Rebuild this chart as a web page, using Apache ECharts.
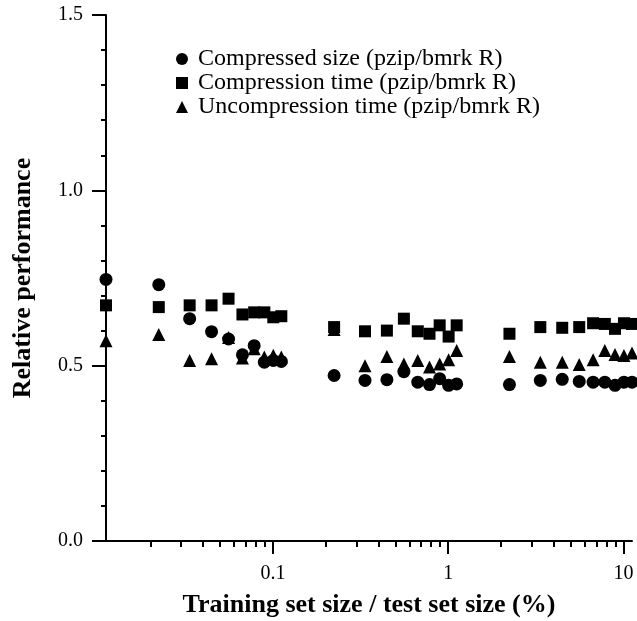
<!DOCTYPE html>
<html>
<head>
<meta charset="utf-8">
<title>Relative performance</title>
<script src="https://cdn.jsdelivr.net/npm/echarts@6.0.0/dist/echarts.min.js"></script>
<style>
  html, body { margin: 0; padding: 0; background: #fff; }
  #chart { width: 637px; height: 621px; }
</style>
</head>
<body>
<div id="chart"></div>
<script>
// training set size / test set size (%)
var trainPct = [0.01117, 0.02234, 0.03351, 0.04468, 0.05585, 0.06702, 0.07819, 0.08936, 0.1005, 0.1117,
                0.2234, 0.3351, 0.4468, 0.5585, 0.6702, 0.7819, 0.8936, 1.005, 1.117,
                2.234, 3.351, 4.468, 5.585, 6.702, 7.819, 8.936, 10.05, 11.17];

var compSize = [0.746, 0.731, 0.634, 0.597, 0.576, 0.531, 0.557, 0.510, 0.515, 0.512,
                0.472, 0.458, 0.460, 0.483, 0.453, 0.446, 0.463, 0.444, 0.448,
                0.446, 0.458, 0.461, 0.455, 0.453, 0.453, 0.444, 0.453, 0.453];

var compTime = [0.672, 0.667, 0.672, 0.672, 0.691, 0.646, 0.652, 0.652, 0.638, 0.641,
                0.610, 0.598, 0.600, 0.634, 0.598, 0.591, 0.615, 0.583, 0.615,
                0.591, 0.610, 0.608, 0.610, 0.621, 0.619, 0.605, 0.621, 0.619];

var uncompTime = [0.571, 0.589, 0.515, 0.520, 0.580, 0.522, 0.548, 0.525, 0.530, 0.525,
                  0.603, 0.500, 0.526, 0.505, 0.515, 0.496, 0.505, 0.517, 0.543,
                  0.526, 0.510, 0.510, 0.503, 0.517, 0.543, 0.532, 0.529, 0.536];

var seriesNames = ['Compressed size (pzip/bmrk R)', 'Compression time (pzip/bmrk R)', 'Uncompression time (pzip/bmrk R)'];

var xMajorTicks = [0.1, 1, 10];
var xMinorTicks = [0.02, 0.03, 0.04, 0.05, 0.06, 0.07, 0.08, 0.09,
                   0.2, 0.3, 0.4, 0.5, 0.6, 0.7, 0.8, 0.9,
                   2, 3, 4, 5, 6, 7, 8, 9];

var font = '"Liberation Serif", "Times New Roman", serif';

function pairs(xs, ys) {
    return xs.map(function (x, i) { return [x, ys[i]]; });
}

var dom = document.getElementById('chart');
var myChart = echarts.init(dom, null, { renderer: 'canvas' });

var black = { color: '#000', opacity: 1 };

var option = {
    backgroundColor: '#fff',
    animation: false,
    textStyle: { fontFamily: font, color: '#000' },
    grid: {
        left: 106,
        top: 15,
        width: 526,
        height: 526,
        outerBoundsMode: 'none'
    },
    legend: {
        orient: 'vertical',
        left: 171,
        top: 42,
        itemWidth: 12,
        itemHeight: 12,
        itemGap: 0,
        itemStyle: { color: '#000', opacity: 1 },
        data: [
            { name: seriesNames[0], icon: 'circle' },
            { name: seriesNames[1], icon: 'rect' },
            { name: seriesNames[2], icon: 'triangle' }
        ],
        textStyle: {
            fontFamily: font,
            fontSize: 24,
            lineHeight: 23,
            color: '#000',
            padding: [0, 0, 0, 5]
        }
    },
    xAxis: [
        {
            type: 'log',
            logBase: 10,
            min: 0.01117,
            max: 11.17,
            name: 'Training set size / test set size (%)',
            nameLocation: 'middle',
            nameGap: 51,
            nameTextStyle: { fontFamily: font, fontSize: 26, fontWeight: 'bold', color: '#000' },
            axisLine: { show: true, lineStyle: { color: '#000', width: 2, opacity: 1 } },
            axisTick: { show: true, length: 13, customValues: xMajorTicks, lineStyle: { color: '#000', width: 2 } },
            axisLabel: { show: true, customValues: xMajorTicks, margin: 23, fontFamily: font, fontSize: 20, color: '#000' },
            splitLine: { show: false },
            minorTick: { show: false }
        },
        {
            type: 'log',
            logBase: 10,
            min: 0.01117,
            max: 11.17,
            position: 'bottom',
            axisLine: { show: false },
            axisTick: { show: true, length: 6, customValues: xMinorTicks, lineStyle: { color: '#000', width: 2 } },
            axisLabel: { show: false },
            splitLine: { show: false }
        }
    ],
    yAxis: {
        type: 'value',
        min: 0,
        max: 1.5,
        interval: 0.5,
        name: 'Relative performance',
        nameLocation: 'middle',
        nameGap: 70,
        nameTextStyle: { fontFamily: font, fontSize: 26, fontWeight: 'bold', color: '#000' },
        axisLine: { show: true, lineStyle: { color: '#000', width: 2, opacity: 1 } },
        axisTick: { show: true, length: 14, lineStyle: { color: '#000', width: 2 } },
        minorTick: { show: true, splitNumber: 5, length: 5, lineStyle: { color: '#000', width: 2 } },
        axisLabel: {
            margin: 23,
            fontFamily: font,
            fontSize: 20,
            color: '#000',
            formatter: function (v) { return v.toFixed(1); }
        },
        splitLine: { show: false },
        minorSplitLine: { show: false }
    },
    series: [
        {
            name: seriesNames[2],
            type: 'scatter',
            symbol: 'triangle',
            symbolSize: 13,
            itemStyle: black,
            emphasis: { disabled: true },
            data: pairs(trainPct, uncompTime)
        },
        {
            name: seriesNames[1],
            type: 'scatter',
            symbol: 'rect',
            symbolSize: 12,
            itemStyle: black,
            emphasis: { disabled: true },
            data: pairs(trainPct, compTime)
        },
        {
            name: seriesNames[0],
            type: 'scatter',
            symbol: 'circle',
            symbolSize: 13,
            itemStyle: black,
            emphasis: { disabled: true },
            data: pairs(trainPct, compSize)
        }
    ]
};

if (option && typeof option === 'object') {
    myChart.setOption(option, true);
}
</script>
</body>
</html>
